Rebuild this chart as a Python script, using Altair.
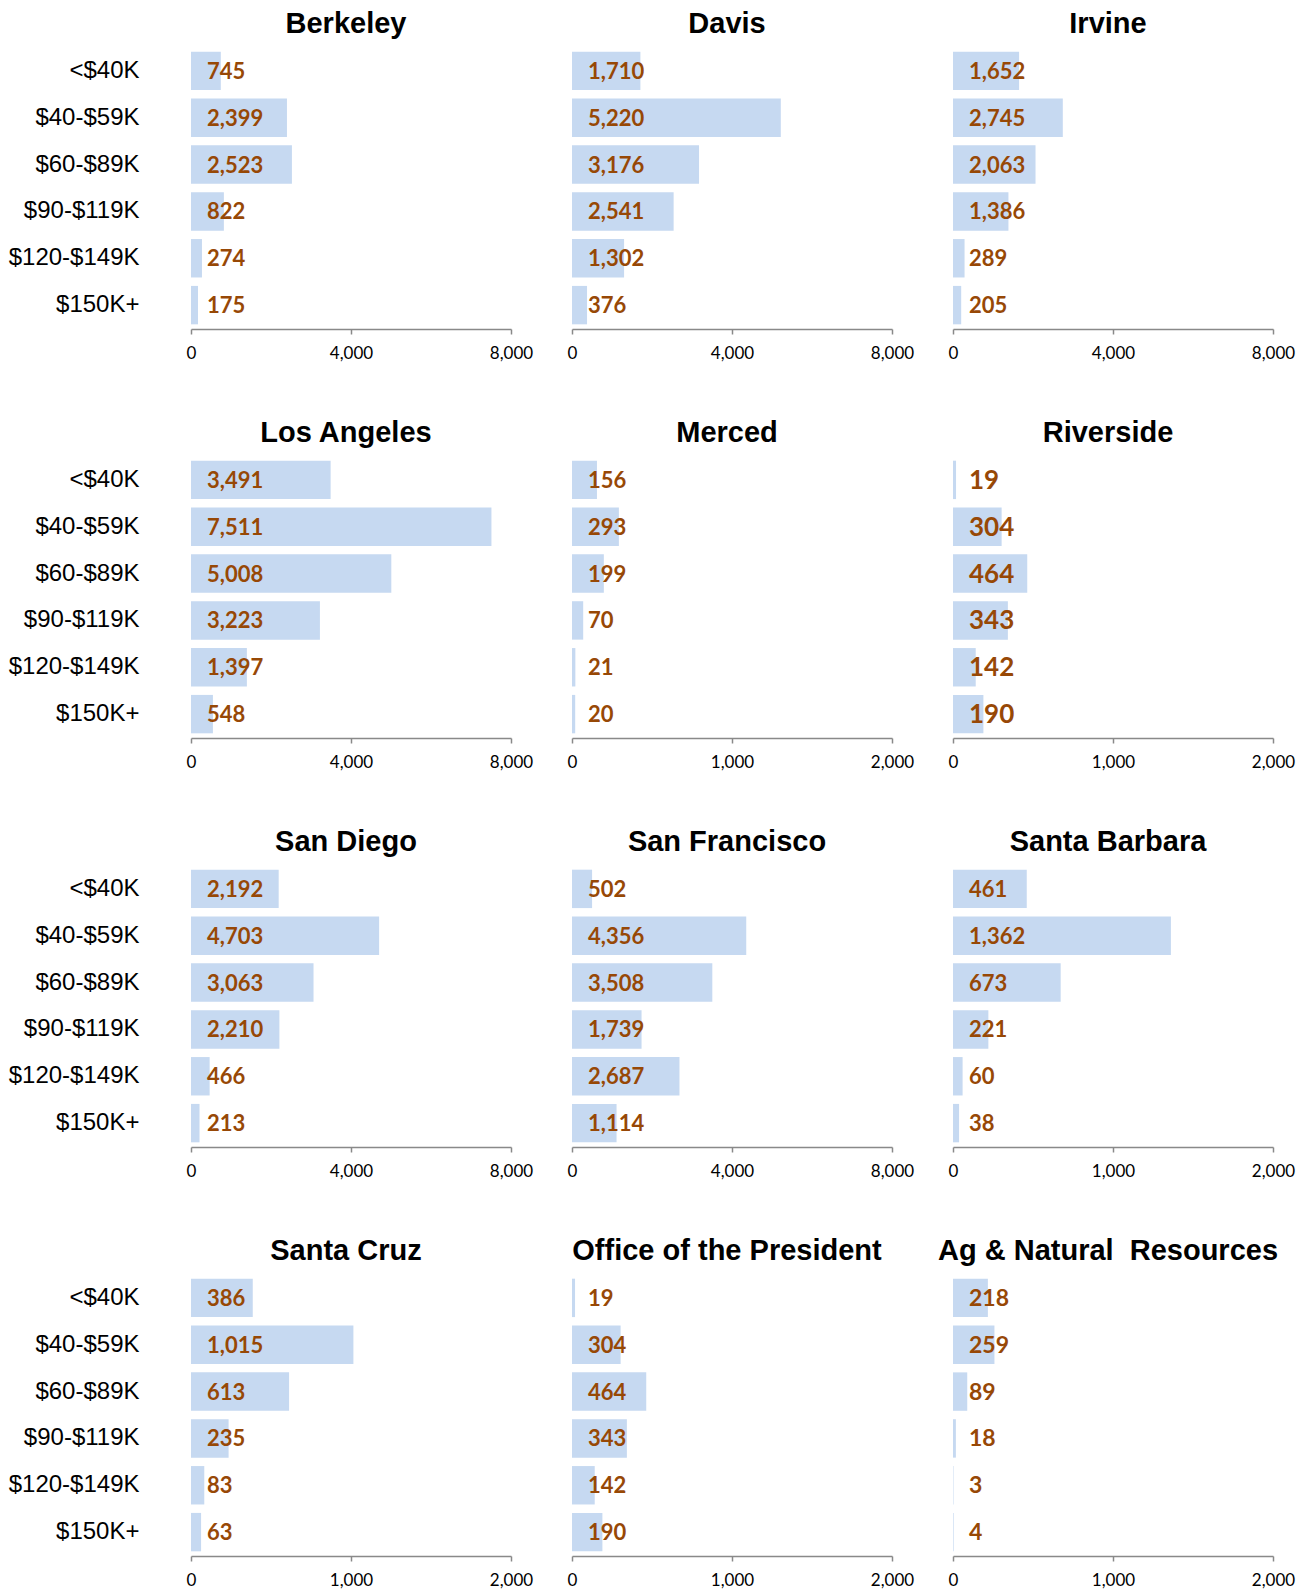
import altair as alt
import pandas as pd

categories = ["<$40K", "$40-$59K", "$60-$89K", "$90-$119K", "$120-$149K", "$150K+"]

campuses = ["Berkeley", "Davis", "Irvine",
            "Los Angeles", "Merced", "Riverside",
            "San Diego", "San Francisco", "Santa Barbara",
            "Santa Cruz", "Office of the President", "Ag & Natural\u00a0 Resources"]

berkeley = [745, 2399, 2523, 822, 274, 175]
davis = [1710, 5220, 3176, 2541, 1302, 376]
irvine = [1652, 2745, 2063, 1386, 289, 205]
los_angeles = [3491, 7511, 5008, 3223, 1397, 548]
merced = [156, 293, 199, 70, 21, 20]
riverside = [19, 304, 464, 343, 142, 190]
san_diego = [2192, 4703, 3063, 2210, 466, 213]
san_francisco = [502, 4356, 3508, 1739, 2687, 1114]
santa_barbara = [461, 1362, 673, 221, 60, 38]
santa_cruz = [386, 1015, 613, 235, 83, 63]
office_president = [19, 304, 464, 343, 142, 190]
ag_natural = [218, 259, 89, 18, 3, 4]

series = [berkeley, davis, irvine, los_angeles, merced, riverside,
          san_diego, san_francisco, santa_barbara, santa_cruz,
          office_president, ag_natural]

x_max = [8000, 8000, 8000, 8000, 2000, 2000, 8000, 8000, 2000, 2000, 2000, 2000]
label_size = [22, 22, 22, 22, 22, 26, 22, 22, 22, 22, 22, 23]

BAR = "#C6D9F1"
LBL = "#974806"
AXIS = "#898989"


def panel(i):
    vals = series[i]
    df = pd.DataFrame({
        "cat": categories,
        "val": vals,
        "lbl": [f"{v:,}" for v in vals],
    })
    show_y = (i % 3 == 0)
    if show_y:
        yaxis = alt.Axis(title=None, domain=False, ticks=False, labelFont="Liberation Sans",
                         labelFontSize=24, labelColor="black", labelPadding=52,
                         labelLimit=300)
    else:
        yaxis = None
    xm = x_max[i]
    base = alt.Chart(df).encode(
        y=alt.Y("cat:N", sort=categories,
                scale=alt.Scale(paddingInner=0.18, paddingOuter=0.1),
                axis=yaxis)
    )
    bars = base.mark_bar(color=BAR).encode(
        x=alt.X("val:Q", scale=alt.Scale(domain=[0, xm], nice=False),
                axis=alt.Axis(title=None, values=[0, xm // 2, xm], format=",d",
                              grid=False, domainColor=AXIS, domainWidth=1.5,
                              tickColor=AXIS, tickWidth=1.5, tickSize=5,
                              labelFont="Lato", labelFontSize=17, labelColor="black",
                              labelPadding=11, labelFlush=False))
    )
    text = base.mark_text(align="left", baseline="middle", dx=16, dy=1,
                          font="Lato", fontWeight="bold",
                          fontSize=label_size[i], color=LBL).encode(
        x=alt.X(datum=0, type="quantitative"),
        text="lbl:N",
    )
    return alt.layer(bars, text).properties(
        width=320, height=282,
        title=alt.TitleParams(campuses[i], font="Liberation Sans", fontSize=29,
                              fontWeight="bold", color="black", anchor="middle",
                              baseline="bottom", offset=-21, dx=-5),
    )


chart = alt.concat(*[panel(i) for i in range(12)], columns=3,
                   spacing=alt.RowColnumber(row=127, column=61),
                   bounds="flush").properties(
    padding={"left": 0, "top": 2, "right": 5, "bottom": 5},
    background="white",
).configure_view(stroke="transparent", strokeWidth=0)

chart.save("out.html", embed_options={"renderer": "svg", "actions": False})
